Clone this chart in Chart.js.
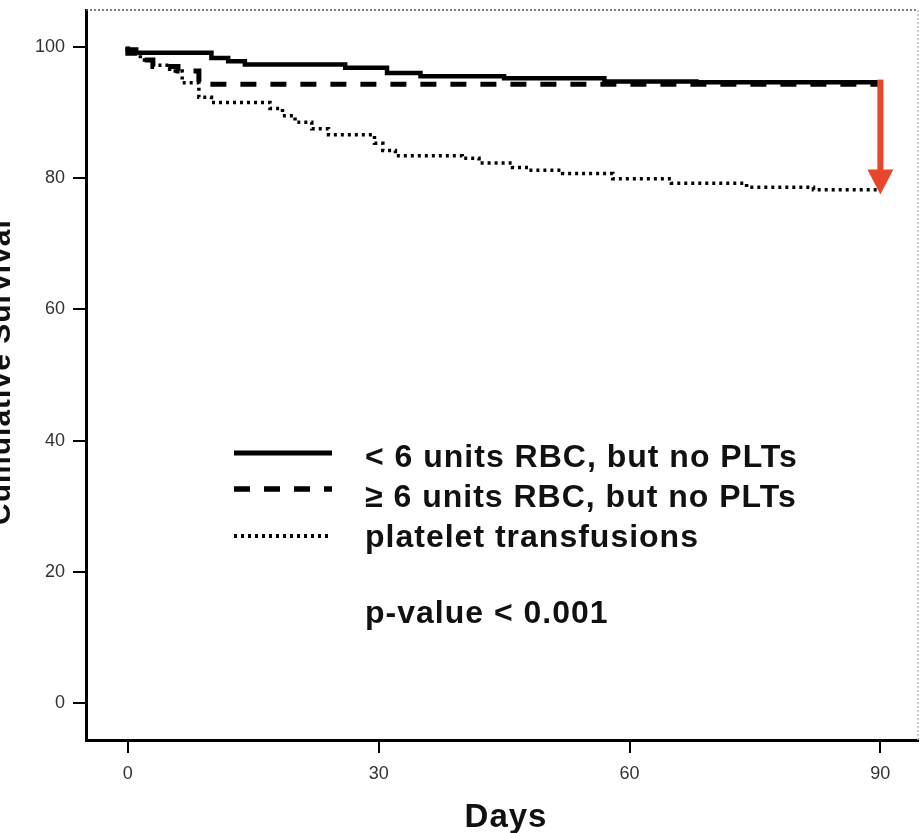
<!DOCTYPE html>
<html>
<head>
    <title>Cumulative Survival</title>
    <script src="https://cdn.jsdelivr.net/npm/chart.js"></script>
    <style>
        body { margin: 0; background: #fff; }
        .wrap { width: 920px; height: 833px; position: relative; }
    </style>
</head>
<body>
<div class="wrap">
    <canvas id="survivalChart"></canvas>
</div>
<script>
    // Datos (dias, supervivencia %)
    var seriesNames = ['< 6 units RBC, but no PLTs', '\u2265 6 units RBC, but no PLTs', 'platelet transfusions'];

    var lowRbcDays   = [0, 1, 10, 12, 14, 26, 31, 35, 45, 57, 68, 90];
    var lowRbcValues = [100, 99.6, 99.1, 98.3, 97.8, 97.3, 96.8, 96.0, 95.5, 95.2, 94.7, 94.6];

    var highRbcDays   = [0, 1.5, 3, 6, 8.5, 19.5, 90];
    var highRbcValues = [100, 99.0, 98.0, 97.0, 96.3, 94.3, 94.3];

    var pltDays   = [0, 1.5, 3, 5, 6.5, 8.5, 10, 17, 18.5, 20, 22, 24, 29.5, 30.5, 32, 40, 42, 46, 48, 52, 58, 65, 74, 82, 90];
    var pltValues = [100, 99, 98, 97.2, 96.3, 94.5, 92.3, 91.5, 90.6, 89.5, 88.5, 87.5, 86.6, 85.3, 84.2, 83.4, 83.0, 82.3, 81.6, 81.2, 80.7, 79.9, 79.2, 78.6, 78.2];

    var xTicks = [0, 30, 60, 90];
    var yTicks = [0, 20, 40, 60, 80, 100];

    var pValueText = 'p-value < 0.001';
    var arrowDay = 90;
    var arrowFrom = 95.0;
    var arrowTo = 77.5;

    function toPoints(days, values) {
        return days.map(function (d, i) { return { x: d, y: values[i] }; });
    }

    var lineStyles = [
        { width: 4.5, dash: [] },
        { width: 5, dash: [16, 14] },
        { width: 3.5, dash: [3, 4] }
    ];

    // Textos, leyenda y flecha roja
    var overlayPlugin = {
        id: 'overlay',
        afterDraw: function (chart) {
            var ctx = chart.ctx;
            var xs = chart.scales.x;
            var ys = chart.scales.y;
            ctx.save();

            // marco superior y derecho
            var a = chart.chartArea;
            ctx.strokeStyle = '#555';
            ctx.lineWidth = 1.5;
            ctx.setLineDash([2, 2]);
            ctx.beginPath();
            ctx.moveTo(a.left, a.top);
            ctx.lineTo(a.right, a.top);
            ctx.stroke();
            ctx.strokeStyle = '#bbb';
            ctx.beginPath();
            ctx.moveTo(a.right, a.top);
            ctx.lineTo(a.right, a.bottom);
            ctx.stroke();
            ctx.setLineDash([]);

            // leyenda
            var rows = [453, 489, 536];
            var baselines = [467, 507, 547];
            ctx.strokeStyle = '#000';
            for (var i = 0; i < 3; i++) {
                ctx.lineWidth = lineStyles[i].width + 0.5;
                ctx.setLineDash(lineStyles[i].dash);
                ctx.beginPath();
                ctx.moveTo(234, rows[i]);
                ctx.lineTo(332, rows[i]);
                ctx.stroke();
            }
            ctx.setLineDash([]);
            ctx.fillStyle = '#111';
            ctx.font = 'bold 32px "Liberation Sans", Arial, sans-serif';
            ctx.letterSpacing = '1px';
            ctx.textAlign = 'left';
            ctx.textBaseline = 'alphabetic';
            for (var j = 0; j < 3; j++) {
                ctx.fillText(seriesNames[j], 365, baselines[j]);
            }
            ctx.fillText(pValueText, 365, 623);

            // titulos de ejes
            ctx.font = 'bold 33px "Liberation Sans", Arial, sans-serif';
            ctx.textAlign = 'center';
            ctx.fillText('Days', 506, 827);
            ctx.font = 'bold 30px "Liberation Sans", Arial, sans-serif';
            ctx.save();
            ctx.translate(10, 372);
            ctx.rotate(-Math.PI / 2);
            ctx.fillText('Cumulative Survival', 0, 0);
            ctx.restore();
            ctx.letterSpacing = '0px';

            // flecha roja
            var ax = xs.getPixelForValue(arrowDay);
            var ay1 = ys.getPixelForValue(arrowFrom);
            var ay2 = ys.getPixelForValue(arrowTo);
            ctx.strokeStyle = '#e8452c';
            ctx.fillStyle = '#e8452c';
            ctx.lineWidth = 6;
            ctx.beginPath();
            ctx.moveTo(ax, ay1);
            ctx.lineTo(ax, ay2 - 20);
            ctx.stroke();
            ctx.beginPath();
            ctx.moveTo(ax - 13, ay2 - 25);
            ctx.lineTo(ax + 13, ay2 - 25);
            ctx.lineTo(ax, ay2);
            ctx.closePath();
            ctx.fill();

            ctx.restore();
        }
    };

    var ctx = document.getElementById('survivalChart').getContext('2d');
    var chart = new Chart(ctx, {
        type: 'line',
        data: {
            datasets: [
                { label: seriesNames[0], data: toPoints(lowRbcDays, lowRbcValues) },
                { label: seriesNames[1], data: toPoints(highRbcDays, highRbcValues) },
                { label: seriesNames[2], data: toPoints(pltDays, pltValues) }
            ].map(function (ds, i) {
                ds.borderColor = '#000';
                ds.borderWidth = lineStyles[i].width;
                ds.borderDash = lineStyles[i].dash;
                ds.stepped = 'after';
                ds.pointRadius = 0;
                ds.fill = false;
                return ds;
            })
        },
        options: {
            responsive: true,
            maintainAspectRatio: false,
            animation: false,
            layout: { padding: { left: 0, top: 10, right: 2, bottom: 0 } },
            plugins: {
                legend: { display: false },
                tooltip: { enabled: false }
            },
            scales: {
                x: {
                    type: 'linear',
                    min: -5,
                    max: 94.5,
                    afterFit: function (s) { s.height = 93; s.paddingLeft = 0; s.paddingRight = 0; },
                    afterBuildTicks: function (s) { s.ticks = xTicks.map(function (v) { return { value: v }; }); },
                    grid: { drawOnChartArea: false, drawTicks: true, tickLength: 13, color: '#000', lineWidth: 2 },
                    border: { display: true, color: '#000', width: 3 },
                    ticks: { color: '#333', padding: 10, font: { family: '"Liberation Sans", Arial, sans-serif', size: 18 } }
                },
                y: {
                    type: 'linear',
                    min: -5.6,
                    max: 105.6,
                    afterFit: function (s) { s.width = 86; s.paddingTop = 0; s.paddingBottom = 0; },
                    afterBuildTicks: function (s) { s.ticks = yTicks.map(function (v) { return { value: v }; }); },
                    grid: { drawOnChartArea: false, drawTicks: true, tickLength: 13, color: '#000', lineWidth: 2 },
                    border: { display: true, color: '#000', width: 3 },
                    ticks: { color: '#333', padding: 8, font: { family: '"Liberation Sans", Arial, sans-serif', size: 18 } }
                }
            }
        },
        plugins: [overlayPlugin]
    });
</script>
</body>
</html>
